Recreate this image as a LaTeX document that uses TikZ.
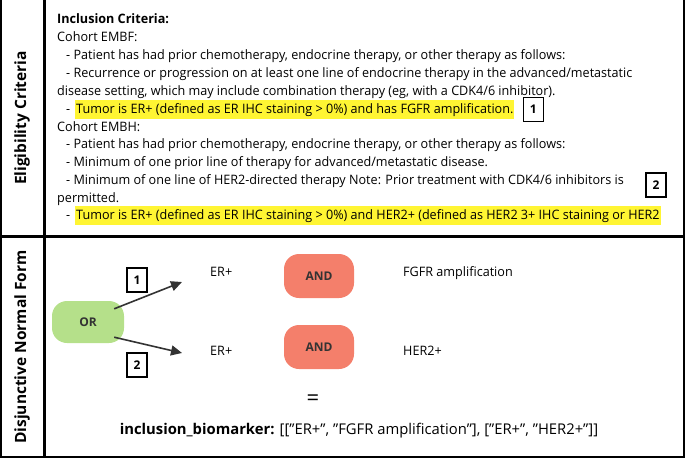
\documentclass[tikz,border=0pt]{standalone}
\usepackage{fontspec}
\setmainfont{Open Sans}
\newfontfamily\cond[FakeStretch=0.97]{Open Sans}
\usetikzlibrary{arrows.meta}
\definecolor{hl}{HTML}{FFF533}
\definecolor{orc}{HTML}{B5E08A}
\definecolor{andc}{HTML}{F47F6B}
\newcommand{\qq}{\symbol{34}}
\tikzset{
 txt/.style={anchor=base west,inner sep=0pt,font=\cond\fontsize{13}{15}\selectfont},
 hltxt/.style={txt,fill=hl,inner ysep=3pt,inner xsep=1pt},
 numbox/.style={draw,line width=1.3pt,minimum width=20pt,minimum height=24pt,inner sep=0pt,font=\bfseries\fontsize{12}{14}\selectfont},
 pill/.style={rounded corners=15pt,inner sep=0pt,font=\bfseries\fontsize{12}{14}\selectfont,text=black!80},
 side/.style={rotate=90,font=\bfseries\fontsize{15.5}{17}\selectfont},
 arr/.style={line width=1.6pt,draw=black!80,-{Triangle[length=11pt,width=10pt]}},
}
\begin{document}
\begin{tikzpicture}[x=1pt,y=-1pt]
\useasboundingbox (0,0) rectangle (685,458);
\draw[line width=1.2pt] (1,0) -- (1,457) -- (684,457) -- (684,0);
\draw[line width=3pt] (44,0) -- (44,458);
\draw[line width=3pt] (0,236) -- (685,236);
\node[side] (l1) at (22,118) {Eligibility Criteria};
\node[side] (l2) at (22,347) {Disjunctive Normal Form};
\node[txt,font=\cond\bfseries\fontsize{13}{15}\selectfont] (t0) at (57,23) {Inclusion Criteria:};
\node[txt] (t1) at (57,41) {Cohort EMBF:};
\node[txt] (t2) at (66,59) {- Patient has had prior chemotherapy, endocrine therapy, or other therapy as follows:};
\node[txt] (t3) at (66,77) {- Recurrence or progression on at least one line of endocrine therapy in the advanced/metastatic};
\node[txt] (t4) at (57,95) {disease setting, which may include combination therapy (eg, with a CDK4/6 inhibitor).};
\node[txt] (t5a) at (66,113) {-};
\node[hltxt,anchor=base west] (t5) at (75,113) {Tumor is ER+ (defined as ER IHC staining > 0\%) and has FGFR amplification.};
\node[txt] (t6) at (57,131) {Cohort EMBH:};
\node[txt] (t7) at (66,148) {- Patient has had prior chemotherapy, endocrine therapy, or other therapy as follows:};
\node[txt] (t8) at (66,166) {- Minimum of one prior line of therapy for advanced/metastatic disease.};
\node[txt] (t9) at (66,184) {- Minimum of one line of HER2-directed therapy Note: Prior treatment with CDK4/6 inhibitors is};
\node[txt] (t10) at (57,202) {permitted.};
\node[txt] (t11a) at (66,219) {-};
\node[hltxt,anchor=base west] (t11) at (75,219) {Tumor is ER+ (defined as ER IHC staining > 0\%) and HER2+ (defined as HER2 3+ IHC staining or HER2};
\node[numbox,anchor=west] (b1) at ([xshift=8pt]t5.east) {1};
\node[numbox] (b2) at (656,185) {2};
\node[pill,fill=orc,minimum width=72pt,minimum height=42pt] (or) at (88,322) {OR};
\node[pill,fill=andc,minimum width=70pt,minimum height=44pt] (and1) at (319,276) {AND};
\node[pill,fill=andc,minimum width=70pt,minimum height=44pt] (and2) at (319,347) {AND};
\node[txt] (er1) at (210,276) {ER+};
\node[txt] (er2) at (210,355) {ER+};
\node[txt] (fg) at (403,276) {FGFR amplification};
\node[txt] (h2) at (403,355) {HER2+};
\coordinate (e1) at (182,282);
\coordinate (e2) at (182,353);
\draw[arr] (or.north east) ++(-10,8) coordinate (s1) (s1) -- (e1);
\draw[arr] (or.south east) ++(-10,-6) coordinate (s2) (s2) -- (e2);
\node[numbox] (c1) at (137,280) {1};
\node[numbox] (c2) at (137,365) {2};
\node[font=\fontsize{22}{24}\selectfont] (eq) at (313,400) {=};
\node[font=\fontsize{14.8}{16}\selectfont] (res) at (359,431) {\textbf{inclusion\_biomarker:} [[\qq ER+\qq, \qq FGFR amplification\qq], [\qq ER+\qq, \qq HER2+\qq]]};
\end{tikzpicture}
\end{document}
